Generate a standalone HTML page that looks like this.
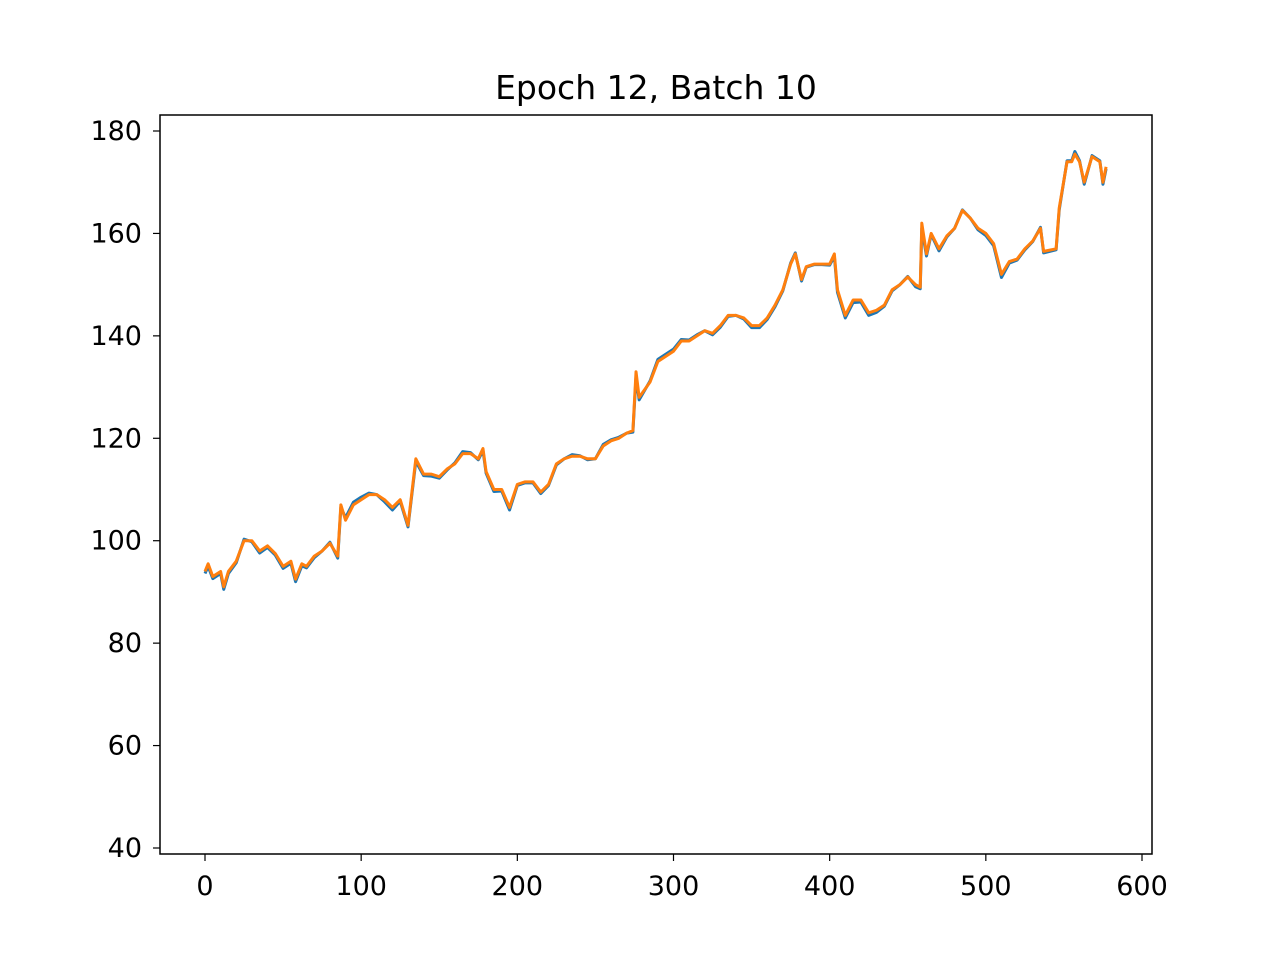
<!DOCTYPE html>
<html><head><meta charset="utf-8"><style>
body{margin:0;background:#fff;}
svg text{font-family:"DejaVu Sans","Liberation Sans",sans-serif;}
</style></head><body>
<svg id="chart" width="1280" height="960" xmlns="http://www.w3.org/2000/svg">
<rect width="1280" height="960" fill="#fff"/>
<text x="656" y="99" font-size="33" text-anchor="middle">Epoch 12, Batch 10</text>
<g id="ticks"></g>
<g id="series"></g>
<rect x="160" y="115" width="992" height="739" fill="none" stroke="#000" stroke-width="1.5"/>
</svg>
<script>
const xIdx=[0,2,5,10,12,15,20,25,30,35,40,45,50,55,58,62,65,70,75,80,85,87,90,95,100,105,110,115,120,125,130,135,140,145,150,155,160,165,170,175,178,180,185,190,195,200,205,210,215,220,225,230,235,240,245,250,255,260,265,270,274,276,278,285,290,295,300,305,310,315,320,325,330,335,340,345,350,355,360,365,370,375,378,382,385,390,395,400,403,405,410,415,420,425,430,435,440,445,450,455,458,459,462,465,470,475,480,485,490,495,500,505,510,515,520,525,530,535,537,545,547,552,555,557,560,563,565,568,573,575,577];
const orangeVals=[94,95.5,93,94,91,94,96,100,100,98,99,97.5,95,96,92.5,95.5,95,97,98,99.5,97,107,104,107,108,109,109,108,106.5,108,103,116,113,113,112.5,114,115,117,117,116,118,113.5,110,110,106.5,111,111.5,111.5,109.5,111,115,116,116.5,116.5,116,116,118.5,119.5,120,121,121.5,133,128,131,135,136,137,139,139,140,141,140.5,142,144,144,143.5,142,142,143.5,146,149,154,156,151,153.5,154,154,154,156,149,144,147,147,144.5,145,146,149,150,151.5,150,149.5,162,156,160,157,159.5,161,164.5,163,161,160,158,152,154.5,155,157,158.5,161,156.5,157,165,174,174,175.5,174,170,172,175,174,170,173];
const blueVals=[93.6,95,92.6,93.6,90.5,93.6,95.7,100.3,99.8,97.6,98.7,97.2,94.6,95.6,92,95.1,94.7,96.7,98,99.7,96.6,106.5,104.5,107.5,108.5,109.3,109,107.6,106,107.7,102.7,115.5,112.7,112.6,112.2,113.8,115.2,117.4,117.2,115.8,117.6,113.2,109.6,109.7,106,110.8,111.3,111.3,109.2,110.8,114.8,116,116.8,116.6,115.8,116,118.8,119.7,120.2,121,121.2,132,127.5,131.2,135.4,136.4,137.4,139.3,139.2,140.2,141,140.2,141.7,143.8,144,143.3,141.6,141.6,143.2,145.7,148.8,154.2,156.2,150.7,153.4,153.9,153.9,153.8,155.5,148.5,143.5,146.5,146.6,144,144.6,145.8,148.8,150,151.6,149.6,149.2,161,155.6,159.8,156.6,159.3,161,164.6,163,160.7,159.6,157.6,151.4,154.2,154.8,156.8,158.4,161.2,156.2,156.8,164.6,174.2,174.2,176,174.2,169.6,171.8,175.2,174.2,169.6,172.6];
const xTicks=[0,100,200,300,400,500,600];
const yTicks=[40,60,80,100,120,140,160,180];
const sx=v=>205+v*(1142-205)/600;
const sy=v=>848-(v-40)*(848-131)/140;
const NS="http://www.w3.org/2000/svg";
const tg=document.getElementById('ticks');
xTicks.forEach(t=>{
 const l=document.createElementNS(NS,'line');
 l.setAttribute('x1',sx(t));l.setAttribute('x2',sx(t));l.setAttribute('y1',854);l.setAttribute('y2',861);
 l.setAttribute('stroke','#000');l.setAttribute('stroke-width','1.2');
 
 
 tg.appendChild(l);
 const tx=document.createElementNS(NS,'text');
 tx.setAttribute('x',sx(t));tx.setAttribute('y',895);tx.setAttribute('font-size','27');tx.setAttribute('text-anchor','middle');
 tx.textContent=t;
 
 
 tg.appendChild(tx);
});
yTicks.forEach(t=>{
 const l=document.createElementNS(NS,'line');
 l.setAttribute('x1',153);l.setAttribute('x2',160);l.setAttribute('y1',sy(t));l.setAttribute('y2',sy(t));
 l.setAttribute('stroke','#000');l.setAttribute('stroke-width','1.2');
 
 
 tg.appendChild(l);
 const tx=document.createElementNS(NS,'text');
 tx.setAttribute('x',142);tx.setAttribute('y',sy(t)+9);tx.setAttribute('font-size','27');tx.setAttribute('text-anchor','end');
 tx.textContent=t;
 
 
 tg.appendChild(tx);
});
const sg=document.getElementById('series');
function line(vals,color,name){
 const p=document.createElementNS(NS,'polyline');
 p.setAttribute('points',vals.map((v,i)=>sx(xIdx[i])+','+sy(v)).join(' '));
 p.setAttribute('fill','none');p.setAttribute('stroke',color);p.setAttribute('stroke-width','3');p.setAttribute('stroke-linejoin','round');
 
 
 sg.appendChild(p);
}
line(blueVals,'#1f77b4','blue-series-line');
line(orangeVals,'#ff7f0e','orange-series-line');
</script>
</body></html>
